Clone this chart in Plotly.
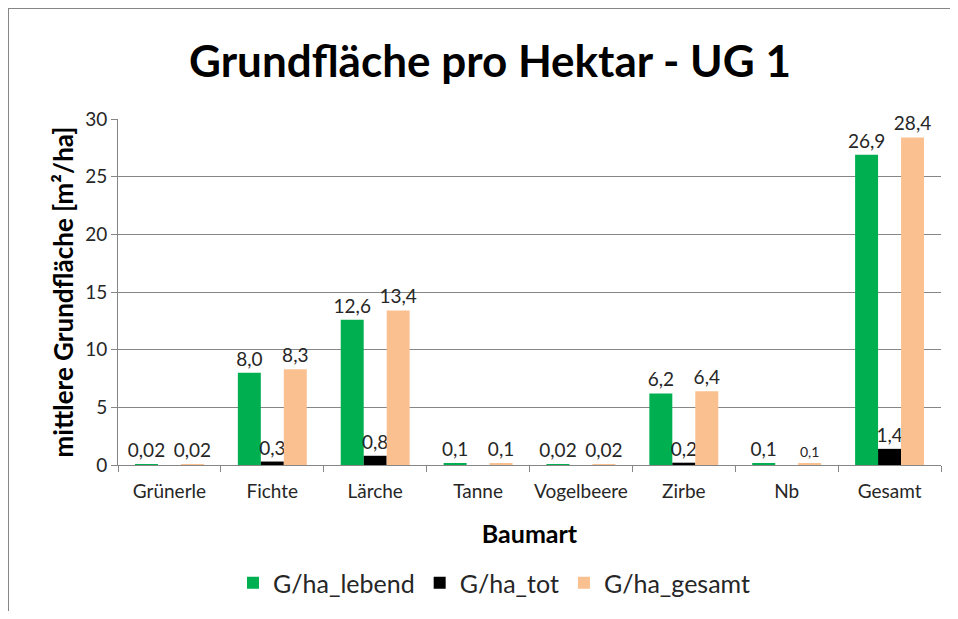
import plotly.graph_objects as go

categories = ["Grünerle", "Fichte", "Lärche", "Tanne", "Vogelbeere", "Zirbe", "Nb", "Gesamt"]
lebend = [0.02, 8.0, 12.6, 0.1, 0.02, 6.2, 0.1, 26.9]
tot = [0, 0.3, 0.8, 0, 0, 0.2, 0, 1.4]
gesamt = [0.02, 8.3, 13.4, 0.1, 0.02, 6.4, 0.1, 28.4]
lebend_labels = ["0,02", "8,0", "12,6", "0,1", "0,02", "6,2", "0,1", "26,9"]
tot_labels = ["", "0,3", "0,8", "", "", "0,2", "", "1,4"]
gesamt_labels = ["0,02", "8,3", "13,4", "0,1", "0,02", "6,4", "0,1", "28,4"]
gesamt_label_sizes = [19, 19, 19, 19, 19, 19, 14, 19]
y_ticks = [0, 5, 10, 15, 20, 25, 30]

FONT = "Lato, Open Sans, sans-serif"
TXT = "#262626"

W, H = 942, 603
L, T = 110, 111
PW, PH = 823, 346

fig = go.Figure()
for name, vals, labels, color, sizes in [
    ("G/ha_lebend", lebend, lebend_labels, "#00B050", 19),
    ("G/ha_tot", tot, tot_labels, "#000000", 19),
    ("G/ha_gesamt", gesamt, gesamt_labels, "#FAC090", gesamt_label_sizes),
]:
    fig.add_trace(go.Bar(
        name=name, x=categories, y=vals, text=labels,
        textposition="outside", cliponaxis=False, constraintext="none",
        textfont=dict(family=FONT, size=sizes, color=TXT),
        marker=dict(color=color, line=dict(width=0)),
    ))

fig.update_layout(
    width=W, height=H,
    paper_bgcolor="white", plot_bgcolor="white",
    margin=dict(l=L, r=W - L - PW, t=T, b=H - T - PH, autoexpand=False),
    barmode="group", bargap=0.33, bargroupgap=0,
    title=dict(text="<b>Grundfläche pro Hektar - UG 1</b>", x=(490 - 8) / W, xanchor="center",
               y=1 - 54 / H, yanchor="middle",
               font=dict(family=FONT, size=44, color="black")),
    font=dict(family=FONT, color=TXT),
    legend=dict(orientation="h", x=(494 - 8 - L) / PW, xanchor="center",
                y=-(583 - 465) / PH, yanchor="middle",
                font=dict(family=FONT, size=25, color=TXT), traceorder="normal",
                itemwidth=30),
    showlegend=True,
)
fig.update_xaxes(
    automargin=False,
    showline=True, linecolor="#868686", linewidth=1,
    ticks="outside", tickson="boundaries", ticklen=6, tickcolor="#868686",
    ticklabelstandoff=9,
    tickfont=dict(family=FONT, size=19, color=TXT),
    title=dict(text="<b>Baumart</b>", font=dict(family=FONT, size=25, color="black"), standoff=24),
    showgrid=False,
)
fig.update_yaxes(
    automargin=False,
    range=[0, 30], tickvals=y_ticks,
    showline=True, linecolor="#868686", linewidth=1,
    ticks="outside", ticklen=6, tickcolor="#868686",
    showgrid=True, gridcolor="#868686", gridwidth=1,
    tickfont=dict(family=FONT, size=19, color=TXT),
    title=dict(text="<b>mittlere Grundfläche [m²/ha]</b>", font=dict(family=FONT, size=26, color="black"), standoff=4),
    zeroline=False,
)
fig.add_shape(type="rect", xref="paper", yref="paper",
              x0=(0 - L) / PW, x1=1.2, y0=-0.7, y1=1 + (T - 0) / PH,
              line=dict(color="#868686", width=2), fillcolor="rgba(0,0,0,0)", layer="below")

fig.write_html("out.html")
